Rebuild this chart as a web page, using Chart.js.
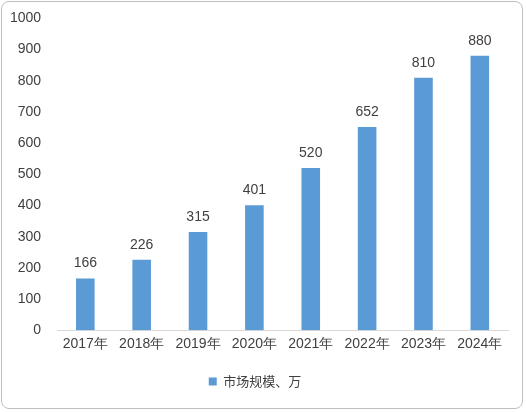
<!DOCTYPE html>
<html><head><meta charset="utf-8">
<script src="https://cdn.jsdelivr.net/npm/chart.js@4"></script>
<style>
html,body{margin:0;padding:0;background:#fff;}
#wrap{position:absolute;left:1px;top:1px;width:522px;height:408px;border:1px solid #bfbfbf;border-radius:8px;box-sizing:border-box;}
canvas{display:block;}
</style></head><body>
<div id="wrap"><canvas id="c"></canvas></div>
<script>
const categories = ["2017年","2018年","2019年","2020年","2021年","2022年","2023年","2024年"];
const values = [166,226,315,401,520,652,810,880];
const seriesName = "市场规模、万";
const yTicks = [0,100,200,300,400,500,600,700,800,900,1000];

const labelPlugin = {
  id:'lbl',
  afterDatasetsDraw(chart){
    const ctx = chart.ctx;
    const meta = chart.getDatasetMeta(0);
    ctx.save();
    ctx.font = '14px "Liberation Sans", Arial, sans-serif';
    ctx.fillStyle = '#404040';
    ctx.textAlign = 'center';
    ctx.textBaseline = 'bottom';
    meta.data.forEach((b,i)=>{ ctx.fillText(values[i], b.x, b.y-8); });
    ctx.restore();
  }
};

new Chart(document.getElementById('c'),{
  type:'bar',
  data:{labels:categories,datasets:[{label:seriesName,data:values,backgroundColor:'#5B9BD5',categoryPercentage:0.6,barPercentage:0.55}]},
  options:{
    responsive:true,maintainAspectRatio:false,animation:false,
    layout:{padding:{top:12,right:14,left:0,bottom:10}},
    scales:{
      x:{grid:{display:true,drawOnChartArea:false,drawTicks:false,color:'#d9d9d9'},border:{color:'#d9d9d9'},
         ticks:{color:'#404040',font:{size:14,family:'"Liberation Sans", Arial, sans-serif'},maxRotation:0,padding:6}},
      y:{min:0,max:1000,afterBuildTicks(a){a.ticks=yTicks.map(v=>({value:v}));},
         grid:{display:false},border:{display:false},
         ticks:{color:'#404040',font:{size:14,family:'"Liberation Sans", Arial, sans-serif'},padding:8,callback:v=>String(v)}}
    },
    plugins:{
      legend:{position:'bottom',labels:{boxWidth:8,boxHeight:8,color:'#404040',font:{size:13,family:'"Noto Sans CJK SC", sans-serif'},padding:16}},
      tooltip:{enabled:false}
    }
  },
  plugins:[labelPlugin]
});
</script>
</body></html>
